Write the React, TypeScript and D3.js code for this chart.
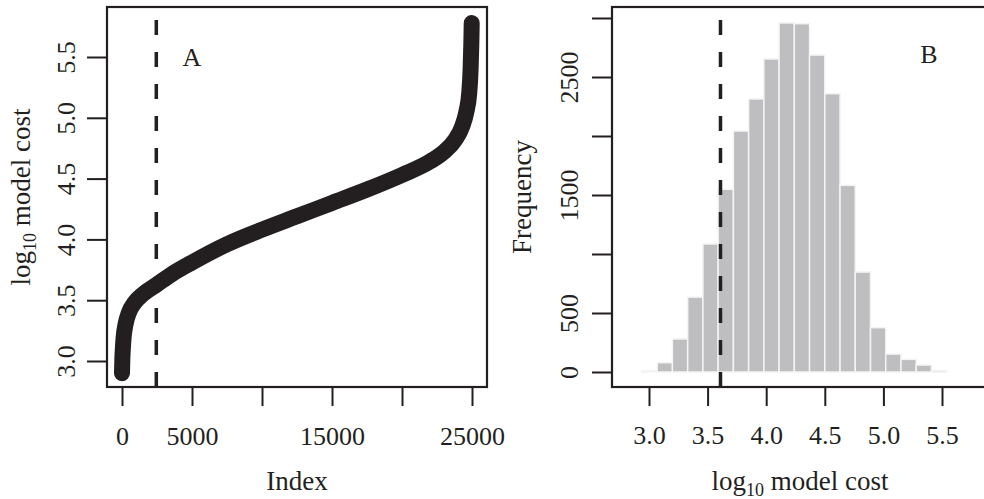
import React, { useEffect, useRef } from 'react';
import * as d3 from 'd3';

// left panel: sorted model costs against their index
const sortedIndex = [0, 20, 60, 120, 250, 500, 900, 1500, 2500, 3500, 5000, 7500, 10000, 12500, 15000, 17500, 20000, 22000, 23000, 23800, 24300, 24600, 24800, 24900, 24950, 24980];
const sortedCost = [2.90, 3.00, 3.10, 3.20, 3.30, 3.40, 3.48, 3.55, 3.63, 3.71, 3.81, 3.96, 4.08, 4.19, 4.30, 4.41, 4.53, 4.64, 4.72, 4.82, 4.93, 5.05, 5.20, 5.40, 5.60, 5.78];

// right panel: histogram of log10 model cost
const binEdges = [2.94, 3.07, 3.20, 3.33, 3.46, 3.59, 3.72, 3.85, 3.98, 4.11, 4.24, 4.37, 4.50, 4.63, 4.76, 4.89, 5.02, 5.15, 5.28, 5.41, 5.54];
const binCounts = [10, 79, 280, 635, 1085, 1548, 2042, 2314, 2653, 2958, 2952, 2686, 2359, 1582, 847, 376, 152, 107, 59, 14];

const cutoffIndex = 2450;
const cutoffCost = 3.61;

const indexTicks = [0, 5000, 10000, 15000, 20000, 25000];
const indexLabels = ['0', '5000', '', '15000', '', '25000'];
const costTicks = [3.0, 3.5, 4.0, 4.5, 5.0, 5.5];
const costLabels = ['3.0', '3.5', '4.0', '4.5', '5.0', '5.5'];
const freqTicks = [0, 500, 1000, 1500, 2000, 2500, 3000];
const freqLabels = ['0', '500', '', '1500', '', '2500', ''];

const INK = '#231f20';
const FONT = '"Liberation Serif", "DejaVu Serif", serif';

const App = () => {
    const svgRef = useRef(null);

    useEffect(() => {
        const svg = d3.select(svgRef.current);
        svg.selectAll('*').remove();

        const styleAxis = (g) => {
            g.select('.domain').remove();
            g.attr('font-size', 26).attr('font-family', FONT).attr('color', INK);
            g.selectAll('.tick line').attr('stroke-width', 2);
            g.selectAll('.tick text').attr('fill', INK);
        };

        // ---------- panel A ----------
        const xL = d3.scaleLinear().domain([0, 25000]).range([122, 472]);
        const yL = d3.scaleLinear().domain([3.0, 5.5]).range([361, 57]);
        const boxA = { x0: 107, x1: 487, y0: 7, y1: 387 };

        const line = d3.line()
            .x((d, i) => xL(sortedIndex[i]))
            .y((d, i) => yL(sortedCost[i]))
            .curve(d3.curveMonotoneX);

        svg.append('path')
            .attr('d', line(sortedIndex))
            .attr('fill', 'none')
            .attr('stroke', INK)
            .attr('stroke-width', 16)
            .attr('stroke-linecap', 'round')
            .attr('stroke-linejoin', 'round');

        svg.append('line')
            .attr('x1', xL(cutoffIndex)).attr('x2', xL(cutoffIndex))
            .attr('y1', boxA.y1).attr('y2', boxA.y0)
            .attr('stroke', INK).attr('stroke-width', 3.5)
            .attr('stroke-dasharray', '15 17');

        svg.append('rect')
            .attr('x', boxA.x0).attr('y', boxA.y0)
            .attr('width', boxA.x1 - boxA.x0).attr('height', boxA.y1 - boxA.y0)
            .attr('fill', 'none').attr('stroke', INK).attr('stroke-width', 2.2);

        svg.append('g')
            .attr('transform', `translate(0,${boxA.y1})`)
            .call(d3.axisBottom(xL).tickValues(indexTicks).tickSize(19)
                .tickFormat((d, i) => indexLabels[i]))
            .call(styleAxis)
            .call(g => g.selectAll('.tick text').attr('y', 58).attr('dy', null));

        svg.append('g')
            .attr('transform', `translate(${boxA.x0},0)`)
            .call(d3.axisLeft(yL).tickValues(costTicks).tickSize(20)
                .tickFormat((d, i) => costLabels[i]))
            .call(styleAxis)
            .call(g => g.selectAll('.tick text')
                .attr('x', null).attr('dy', null)
                .attr('text-anchor', 'middle')
                .attr('transform', 'translate(-32,0) rotate(-90)'));

        svg.append('text')
            .attr('x', 192).attr('y', 66)
            .attr('text-anchor', 'middle')
            .attr('font-family', FONT).attr('font-size', 26).attr('fill', INK)
            .text('A');

        svg.append('text')
            .attr('x', (boxA.x0 + boxA.x1) / 2).attr('y', 490)
            .attr('text-anchor', 'middle')
            .attr('font-family', FONT).attr('font-size', 27).attr('fill', INK)
            .text('Index');

        const yTitle = svg.append('text')
            .attr('transform', `translate(30,${(boxA.y0 + boxA.y1) / 2}) rotate(-90)`)
            .attr('text-anchor', 'middle')
            .attr('font-family', FONT).attr('font-size', 27).attr('fill', INK);
        yTitle.append('tspan').text('log');
        yTitle.append('tspan').attr('font-size', 18).attr('dy', 6).text('10');
        yTitle.append('tspan').attr('dy', -6).text(' model cost');

        // ---------- panel B ----------
        const xR = d3.scaleLinear().domain([3.0, 5.5]).range([649, 942]);
        const yR = d3.scaleLinear().domain([0, 3000]).range([372, 18]);
        const boxB = { x0: 612, x1: 988, y0: 7, y1: 387 };

        svg.append('g')
            .selectAll('rect')
            .data(binCounts)
            .enter()
            .append('rect')
            .attr('x', (d, i) => xR(binEdges[i]))
            .attr('width', (d, i) => xR(binEdges[i + 1]) - xR(binEdges[i]))
            .attr('y', d => yR(d))
            .attr('height', d => yR(0) - yR(d))
            .attr('fill', '#bebec0')
            .attr('stroke', '#f4f4f4')
            .attr('stroke-width', 1.5);

        svg.append('line')
            .attr('x1', xR(cutoffCost)).attr('x2', xR(cutoffCost))
            .attr('y1', boxB.y1).attr('y2', boxB.y0)
            .attr('stroke', INK).attr('stroke-width', 3.5)
            .attr('stroke-dasharray', '15 17');

        svg.append('rect')
            .attr('x', boxB.x0).attr('y', boxB.y0)
            .attr('width', boxB.x1 - boxB.x0).attr('height', boxB.y1 - boxB.y0)
            .attr('fill', 'none').attr('stroke', INK).attr('stroke-width', 2.2);

        svg.append('g')
            .attr('transform', `translate(0,${boxB.y1})`)
            .call(d3.axisBottom(xR).tickValues(costTicks).tickSize(19)
                .tickFormat((d, i) => costLabels[i]))
            .call(styleAxis)
            .call(g => g.selectAll('.tick text').attr('y', 57).attr('dy', null));

        svg.append('g')
            .attr('transform', `translate(${boxB.x0},0)`)
            .call(d3.axisLeft(yR).tickValues(freqTicks).tickSize(20)
                .tickFormat((d, i) => freqLabels[i]))
            .call(styleAxis)
            .call(g => g.selectAll('.tick text')
                .attr('x', null).attr('dy', null)
                .attr('text-anchor', 'middle')
                .attr('transform', 'translate(-34,0) rotate(-90)'));

        svg.append('text')
            .attr('x', 929).attr('y', 63)
            .attr('text-anchor', 'middle')
            .attr('font-family', FONT).attr('font-size', 26).attr('fill', INK)
            .text('B');

        svg.append('text')
            .attr('transform', `translate(531,${(boxB.y0 + boxB.y1) / 2}) rotate(-90)`)
            .attr('text-anchor', 'middle')
            .attr('font-family', FONT).attr('font-size', 27).attr('fill', INK)
            .text('Frequency');

        const xTitle = svg.append('text')
            .attr('x', (boxB.x0 + boxB.x1) / 2).attr('y', 490)
            .attr('text-anchor', 'middle')
            .attr('font-family', FONT).attr('font-size', 27).attr('fill', INK);
        xTitle.append('tspan').text('log');
        xTitle.append('tspan').attr('font-size', 18).attr('dy', 6).text('10');
        xTitle.append('tspan').attr('dy', -6).text(' model cost');
    }, []);

    return (
        <svg ref={svgRef} width={984} height={499}
            style={{ position: 'absolute', left: 0, top: 0, background: '#fff' }} />
    );
};

export default App;
